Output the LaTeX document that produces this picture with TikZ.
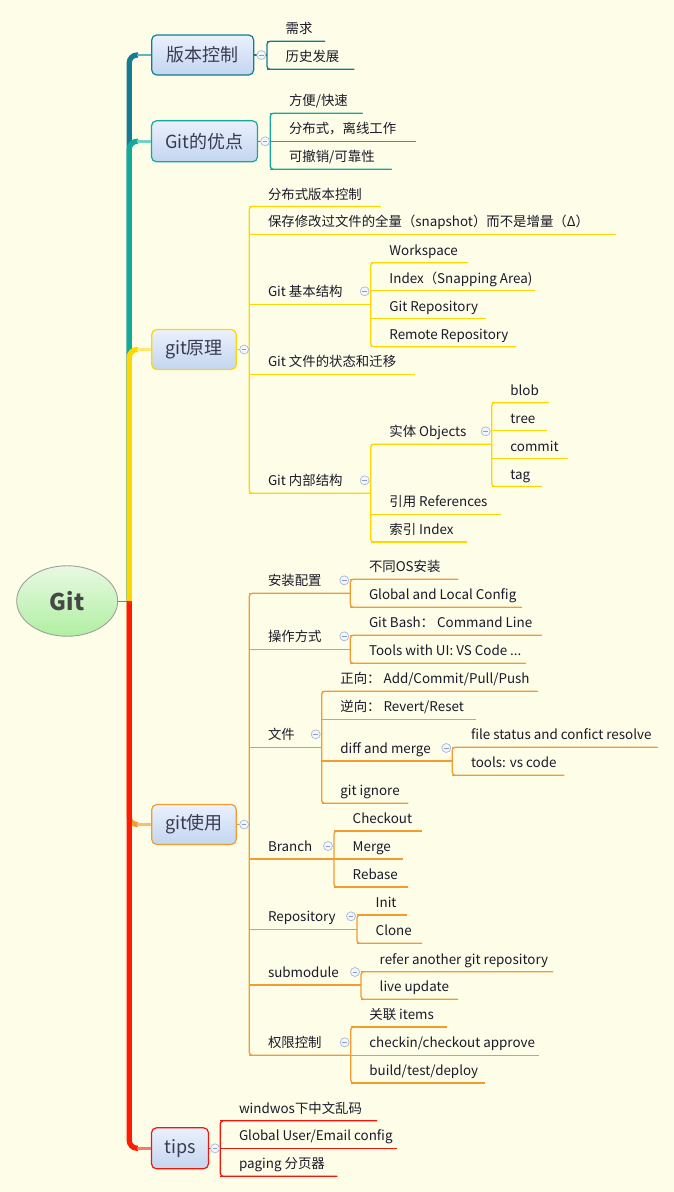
\documentclass[tikz,border=0pt]{standalone}
\usepackage{fontspec}
\setmainfont{Noto Sans CJK SC}
\usetikzlibrary{calc,shapes.geometric}
\definecolor{bgc}{HTML}{FDFDE8}
\definecolor{ca}{HTML}{137C91}
\definecolor{cal}{HTML}{62B2C0}
\definecolor{cb}{HTML}{14A99A}
\definecolor{cbl}{HTML}{72D2C6}
\definecolor{cc}{HTML}{FFD700}
\definecolor{ccl}{HTML}{FFE870}
\definecolor{cd}{HTML}{F29B30}
\definecolor{cdl}{HTML}{F8BE70}
\definecolor{ce}{HTML}{F5140A}
\definecolor{cel}{HTML}{F27A6E}
\definecolor{trunkred}{HTML}{FF1A00}
\definecolor{nodetop}{HTML}{EAF1FC}
\definecolor{nodebot}{HTML}{C3D5F0}
\definecolor{topictext}{HTML}{3A3A52}
\definecolor{leaftext}{HTML}{1A1A2A}
\definecolor{mkc}{HTML}{AAB8DC}
\definecolor{mkf}{HTML}{F3F6FC}
\definecolor{mkm}{HTML}{8A9CCC}
\definecolor{gitA}{HTML}{E8F9E2}
\definecolor{gitB}{HTML}{B0EFA2}
\newcommand\leaffont{\fontsize{13.4}{16}\selectfont}
\newcommand\topicfont{\fontsize{18}{21}\selectfont}
\newcommand\leaf[6]{%
  \coordinate (#1-a) at (#2,#3);
  \coordinate (#1-b) at (#4,#3);
  \draw[subline,#5] (#1-a) -- (#1-b);
  \node[leaf] (#1) at ($(#1-a)+(18.5,-7.5)$) {#6};
}
\newcommand\grp[3]{%
  \draw[subline,#3,rounded corners=3pt] (#1-b) -- (#1-a) -- (#2-a) -- (#2-b);
}
\newcommand\collapse[1]{\node[marker] (#1-m) at ($(#1-b)+(-6,-13)$) {};}
\begin{document}
\begin{tikzpicture}[x=1pt,y=-1pt,
  leaf/.style={anchor=base west, inner sep=0pt, font=\leaffont, text=leaftext},
  topic/.style={rounded corners=5pt, line width=1.2pt, top color=nodetop, bottom color=nodebot,
    font=\topicfont, text=topictext, inner sep=0pt},
  subline/.style={line width=1.3pt},
  trunk/.style={line width=5.2pt, rounded corners=8pt},
  linkline/.style={line width=2.6pt},
  marker/.style={circle, draw=mkc, fill=mkf, line width=0.7pt, minimum size=9pt, inner sep=0pt,
    path picture={\draw[mkm, line width=0.9pt] ([xshift=-2.3pt]path picture bounding box.center) -- ([xshift=2.3pt]path picture bounding box.center);}}
]
\useasboundingbox (0,0) rectangle (674,1192);
\fill[bgc] (0,0) rectangle (674,1192);

% central topic
\node[ellipse, draw=gray!75, line width=0.9pt, top color=gitA, bottom color=gitB,
  minimum width=101pt, minimum height=70.5pt, inner sep=0pt,
  font=\fontsize{23}{26}\selectfont\bfseries, text=black!72] (git) at (67.2,601) {Git};
\coordinate (tr) at (129.2,601);

% main topics
\node[topic, draw=ca, minimum width=102pt, minimum height=40pt] (vk) at (202.7,55) {版本控制};
\node[topic, draw=cb, minimum width=106pt, minimum height=41pt] (yd) at (204.5,141.3) {Git的优点};
\node[topic, draw=cc, minimum width=84.5pt, minimum height=40pt] (yl) at (194,349.5) {git原理};
\node[topic, draw=cd, minimum width=84.5pt, minimum height=40pt] (sy) at (194,824.5) {git使用};
\node[topic, draw=ce, minimum width=57pt, minimum height=41pt] (tp) at (180,1148.3) {tips};

% trunks
\draw[gray, line width=1pt] (git.east) -- (tr);
\draw[trunk, ca] (tr) -- (tr |- vk.west) -- ++(9,0) coordinate (ka);
\draw[linkline, cal] ($(ka)+(-1,0)$) -- (vk.west);
\draw[trunk, cb] (tr) -- (tr |- yd.west) -- ++(9,0) coordinate (kb);
\draw[linkline, cbl] ($(kb)+(-1,0)$) -- (yd.west);
\draw[trunk, cc] (tr) -- (tr |- yl.west) -- ++(9,0) coordinate (kc);
\draw[linkline, ccl] ($(kc)+(-1,0)$) -- (yl.west);
\draw[trunk, cd] (tr) -- (tr |- sy.west) -- ++(9,0) coordinate (kd);
\draw[linkline, cdl] ($(kd)+(-1,0)$) -- (sy.west);
\draw[trunk, trunkred] (tr) -- (tr |- tp.west) -- ++(9,0) coordinate (ke);
\draw[linkline, cel] ($(ke)+(-1,0)$) -- (tp.west);

% ---------- 版本控制 ----------
\leaf{a1}{267}{41.3}{325}{ca}{需求}
\leaf{a2}{267}{69.3}{354.3}{ca}{历史发展}
\grp{a1}{a2}{ca}
\draw[subline, ca] (vk.east) -- (vk.east -| a1-a);
\node[marker] (vk-m) at ($(vk.east)+(7,0)$) {};

% ---------- Git的优点 ----------
\leaf{b1}{270.3}{113.3}{362.7}{cb}{方便/快速}
\leaf{b2}{270.3}{141.3}{416}{cb}{分布式，离线工作}
\leaf{b3}{270.3}{169.3}{391.7}{cb}{可撤销/可靠性}
\grp{b1}{b3}{cb}
\draw[subline, cb] (yd.east) -- (yd.east -| b1-a);
\node[marker] (yd-m) at ($(yd.east)+(7,0)$) {};

% ---------- git原理 ----------
\leaf{c1}{249.3}{206.5}{380.7}{cc}{分布式版本控制}
\leaf{c2}{249.3}{234.3}{616}{cc}{保存修改过文件的全量（snapshot）而不是增量（Δ）}
\leaf{c3}{249.3}{304.3}{370.7}{cc}{Git 基本结构}
\leaf{c4}{249.3}{374.3}{415.3}{cc}{Git 文件的状态和迁移}
\leaf{c5}{249.3}{493.3}{370.7}{cc}{Git 内部结构}
\grp{c1}{c5}{cc}
\draw[subline, cc] (yl.east) -- (yl.east -| c1-a);
\node[marker] (yl-m) at ($(yl.east)+(7.3,0)$) {};

\leaf{d1}{370.7}{262.7}{467.7}{cc}{Workspace}
\leaf{d2}{370.7}{290.7}{534.7}{cc}{Index（Snapping Area)}
\leaf{d3}{370.7}{318.7}{485.7}{cc}{Git Repository}
\leaf{d4}{370.7}{346.7}{515.7}{cc}{Remote Repository}
\grp{d1}{d4}{cc}
\collapse{c3}

\leaf{e1}{370.7}{444.3}{491.7}{cc}{实体 Objects}
\leaf{e2}{370.7}{514.3}{500.7}{cc}{引用 References}
\leaf{e3}{370.7}{542}{466.7}{cc}{索引 Index}
\grp{e1}{e3}{cc}
\collapse{c5}

\leaf{f1}{491.7}{402.7}{548.7}{cc}{blob}
\leaf{f2}{491.7}{430.7}{546.7}{cc}{tree}
\leaf{f3}{491.7}{458.7}{567.7}{cc}{commit}
\leaf{f4}{491.7}{486.5}{541.7}{cc}{tag}
\grp{f1}{f4}{cc}
\collapse{e1}

% ---------- git使用 ----------
\leaf{g1}{249.3}{593.3}{350.3}{cd}{安装配置}
\leaf{g2}{249.3}{649.3}{350.3}{cd}{操作方式}
\leaf{g3}{249.3}{747.3}{321.7}{cd}{文件}
\leaf{g4}{249.3}{859}{334}{cd}{Branch}
\leaf{g5}{249.3}{929.3}{357}{cd}{Repository}
\leaf{g6}{249.3}{985}{361}{cd}{submodule}
\leaf{g7}{249.3}{1055.3}{350.7}{cd}{权限控制}
\grp{g1}{g7}{cd}
\draw[subline, cd] (sy.east) -- (sy.east -| g1-a);
\node[marker] (sy-m) at ($(sy.east)+(7.3,0)$) {};

\leaf{h1}{350.3}{579.3}{458.3}{cd}{不同OS安装}
\leaf{h2}{350.3}{607.3}{521.7}{cd}{Global and Local Config}
\grp{h1}{h2}{cd}
\collapse{g1}

\leaf{i1}{350.3}{635.3}{541.7}{cd}{Git Bash： Command Line}
\leaf{i2}{350.3}{663.3}{525.7}{cd}{Tools with UI: VS Code ...}
\grp{i1}{i2}{cd}
\collapse{g2}

\leaf{j1}{321.7}{691.3}{537.7}{cd}{正向： Add/Commit/Pull/Push}
\leaf{j2}{321.7}{719.3}{475.7}{cd}{逆向： Revert/Reset}
\leaf{j3}{321.7}{761}{452.3}{cd}{diff and merge}
\leaf{j4}{321.7}{803.3}{408.3}{cd}{git ignore}
\grp{j1}{j4}{cd}
\collapse{g3}

\leaf{k1}{452.3}{747.3}{657.7}{cd}{file status and confict resolve}
\leaf{k2}{452.3}{775.3}{564.3}{cd}{tools: vs code}
\grp{k1}{k2}{cd}
\collapse{j3}

\leaf{l1}{334}{831}{421.7}{cd}{Checkout}
\leaf{l2}{334}{859}{403}{cd}{Merge}
\leaf{l3}{334}{887}{408}{cd}{Rebase}
\grp{l1}{l3}{cd}
\collapse{g4}

\leaf{m1}{357}{915}{407}{cd}{Init}
\leaf{m2}{357}{943.3}{422}{cd}{Clone}
\grp{m1}{m2}{cd}
\collapse{g5}

\leaf{n1}{361}{971.7}{553}{cd}{refer another git repository}
\leaf{n2}{361}{999.3}{458}{cd}{live update}
\grp{n1}{n2}{cd}
\collapse{g6}

\leaf{o1}{350.7}{1027}{447}{cd}{关联 items}
\leaf{o2}{350.7}{1055.3}{539}{cd}{checkin/checkout approve}
\leaf{o3}{350.7}{1083}{484.7}{cd}{build/test/deploy}
\grp{o1}{o3}{cd}
\collapse{g7}

% ---------- tips ----------
\leaf{p1}{220.3}{1120.7}{377}{ce}{windwos下中文乱码}
\leaf{p2}{220.3}{1148.3}{397}{ce}{Global User/Email config}
\leaf{p3}{220.3}{1176.3}{337.3}{ce}{paging 分页器}
\grp{p1}{p3}{ce}
\draw[subline, ce] (tp.east) -- (tp.east -| p1-a);
\node[marker] (tp-m) at ($(tp.east)+(6,0)$) {};
\end{tikzpicture}
\end{document}
